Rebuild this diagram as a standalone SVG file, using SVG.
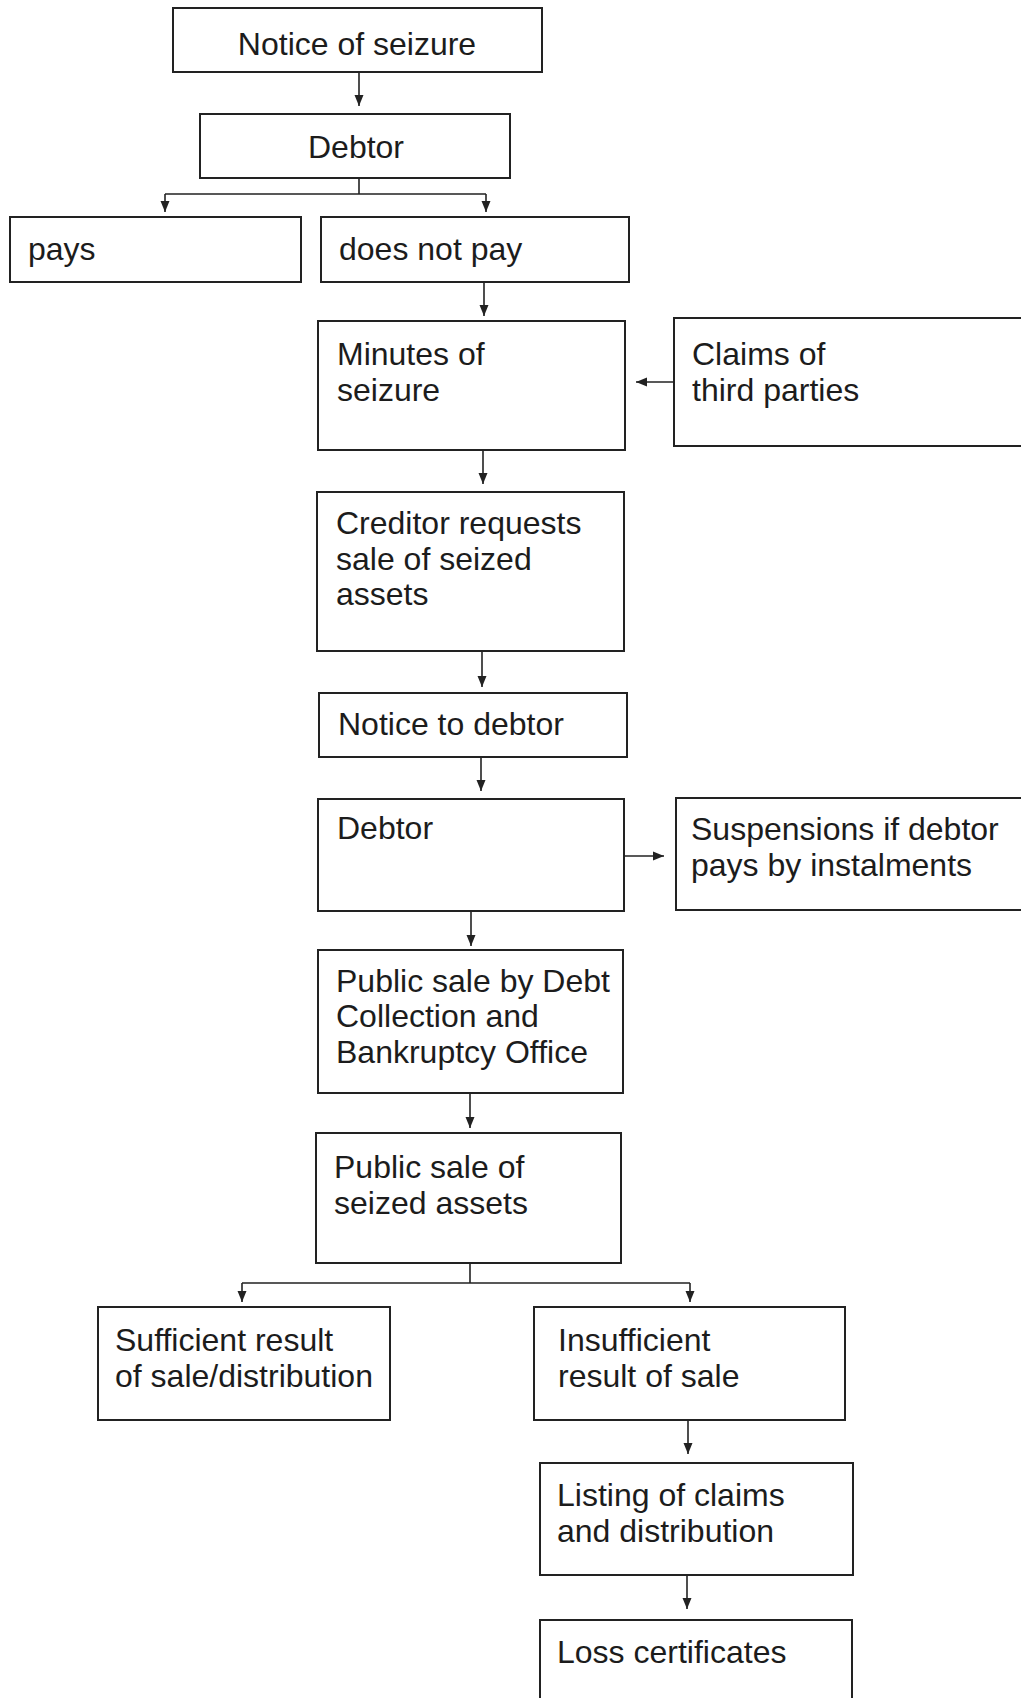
<svg xmlns="http://www.w3.org/2000/svg" width="1021" height="1698" viewBox="0 0 1021 1698">
<style>
.box{fill:none;stroke:#222;stroke-width:2}
.t{font-family:"Liberation Sans",Arial,sans-serif;font-size:32px;fill:#1c1c1c}
.c{fill:none;stroke:#222;stroke-width:1.6}
</style>
<defs>
<marker id="ah" markerUnits="userSpaceOnUse" markerWidth="12" markerHeight="12" viewBox="0 0 12 12" refX="11" refY="6" orient="auto">
<path d="M0,1.5 L11,6 L0,10.5 Z" fill="#222"/>
</marker>
</defs>
<rect width="1021" height="1698" fill="#fff"/>
<g id="n1"><rect class="box" x="173" y="8" width="369" height="64"/><text class="t" x="357" y="55" text-anchor="middle">Notice of seizure</text></g>
<g id="n2"><rect class="box" x="200" y="114" width="310" height="64"/><text class="t" x="356" y="158" text-anchor="middle">Debtor</text></g>
<g id="n3"><rect class="box" x="10" y="217" width="291" height="65"/><text class="t" x="28" y="260">pays</text></g>
<g id="n4"><rect class="box" x="321" y="217" width="308" height="65"/><text class="t" x="339" y="260">does not pay</text></g>
<g id="n5"><rect class="box" x="318" y="321" width="307" height="129"/><text class="t" x="337" y="365">Minutes of</text><text class="t" x="337" y="401">seizure</text></g>
<g id="n6"><rect class="box" x="674" y="318" width="400" height="128"/><text class="t" x="692" y="365">Claims of</text><text class="t" x="692" y="401">third parties</text></g>
<g id="n7"><rect class="box" x="317" y="492" width="307" height="159"/><text class="t" x="336" y="534">Creditor requests</text><text class="t" x="336" y="570">sale of seized</text><text class="t" x="336" y="605">assets</text></g>
<g id="n8"><rect class="box" x="319" y="693" width="308" height="64"/><text class="t" x="338" y="735">Notice to debtor</text></g>
<g id="n9"><rect class="box" x="318" y="799" width="306" height="112"/><text class="t" x="337" y="839">Debtor</text></g>
<g id="n10"><rect class="box" x="676" y="798" width="400" height="112"/><text class="t" x="691" y="840">Suspensions if debtor</text><text class="t" x="691" y="876">pays by instalments</text></g>
<g id="n11"><rect class="box" x="318" y="950" width="305" height="143"/><text class="t" x="336" y="992">Public sale by Debt</text><text class="t" x="336" y="1027">Collection and</text><text class="t" x="336" y="1063">Bankruptcy Office</text></g>
<g id="n12"><rect class="box" x="316" y="1133" width="305" height="130"/><text class="t" x="334" y="1178">Public sale of</text><text class="t" x="334" y="1214">seized assets</text></g>
<g id="n13"><rect class="box" x="98" y="1307" width="292" height="113"/><text class="t" x="115" y="1351">Sufficient result</text><text class="t" x="115" y="1387">of sale/distribution</text></g>
<g id="n14"><rect class="box" x="534" y="1307" width="311" height="113"/><text class="t" x="558" y="1351">Insufficient</text><text class="t" x="558" y="1387">result of sale</text></g>
<g id="n15"><rect class="box" x="540" y="1463" width="313" height="112"/><text class="t" x="557" y="1506">Listing of claims</text><text class="t" x="557" y="1542">and distribution</text></g>
<g id="n16"><rect class="box" x="540" y="1620" width="312" height="120"/><text class="t" x="557" y="1663">Loss certificates</text></g>
<g id="connectors">
<path class="c" d="M359,72 V106" marker-end="url(#ah)"/>
<path class="c" d="M359,178 V194 M165,194 H486"/>
<path class="c" d="M165,194 V212" marker-end="url(#ah)"/>
<path class="c" d="M486,194 V212" marker-end="url(#ah)"/>
<path class="c" d="M484,282 V316" marker-end="url(#ah)"/>
<path class="c" d="M674,382 H636" marker-end="url(#ah)"/>
<path class="c" d="M483,450 V484" marker-end="url(#ah)"/>
<path class="c" d="M482,651 V687" marker-end="url(#ah)"/>
<path class="c" d="M481,757 V791" marker-end="url(#ah)"/>
<path class="c" d="M624,856 H664" marker-end="url(#ah)"/>
<path class="c" d="M471,911 V946" marker-end="url(#ah)"/>
<path class="c" d="M470,1093 V1128" marker-end="url(#ah)"/>
<path class="c" d="M470,1263 V1283 M242,1283 H690"/>
<path class="c" d="M242,1283 V1302" marker-end="url(#ah)"/>
<path class="c" d="M690,1283 V1302" marker-end="url(#ah)"/>
<path class="c" d="M688,1420 V1454" marker-end="url(#ah)"/>
<path class="c" d="M687,1575 V1609" marker-end="url(#ah)"/>
</g>
</svg>
